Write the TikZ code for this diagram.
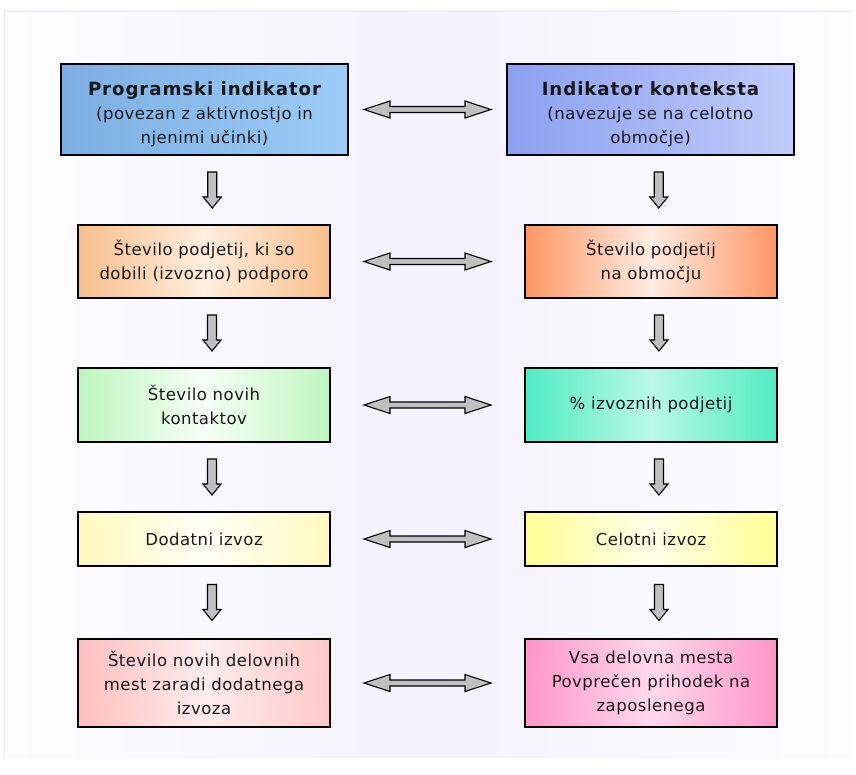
\documentclass[tikz,border=0pt]{standalone}
\usepackage{fontspec}
\setmainfont{DejaVu Sans}[LetterSpace=3]
\newfontfamily\headfont{DejaVu Sans}[LetterSpace=5]
\usetikzlibrary{calc}

% shade colours
\definecolor{bgedge}{RGB}{253,253,254}
\definecolor{bgmid}{RGB}{244,242,254}
\definecolor{bgline}{RGB}{234,232,250}
\definecolor{arrowgray}{RGB}{192,192,192}

\begin{document}
\begin{tikzpicture}[x=1pt,y=-1pt,
  box/.style={draw=black, line width=1.1pt, align=center, inner sep=2pt,
    font=\fontsize{16.5}{24}\selectfont, text=black!90},
  toprow/.style={box, minimum width=287pt, minimum height=91pt},
  lowrow/.style={box, minimum width=252pt},
  arrowstyle/.style={draw=black, line width=1.1pt, fill=arrowgray, line join=miter},
  hdbl/.pic={\draw[arrowstyle] (-63.5,0) -- (-37.5,-8.5) -- (-37.5,-3) -- (37.5,-3)
      -- (37.5,-8.5) -- (63.5,0) -- (37.5,8.5) -- (37.5,3) -- (-37.5,3)
      -- (-37.5,8.5) -- cycle;},
  vdown/.pic={\draw[arrowstyle] (-4.5,-18) -- (4.5,-18) -- (4.5,7) -- (9,7)
      -- (0,18) -- (-9,7) -- (-4.5,7) -- cycle;}
]
\useasboundingbox (0,0) rectangle (856,774);

% backdrop
\shade[left color=bgedge, right color=bgedge, middle color=bgmid] (4,11) rectangle (852,757);
\draw[bgline, line width=0.8pt] (4,757) -- (4,11) -- (852,11);

% programme-side column
\node[toprow, left color={rgb,255:red,124;green,174;blue,226},
      right color={rgb,255:red,156;green,205;blue,247}] (L1) at (204.5,109.5)
  {{\rule{0pt}{24pt}\headfont\fontsize{18.2}{24}\selectfont\bfseries Programski indikator}\\(povezan z aktivnostjo in\\njenimi učinki)};
\node[lowrow, minimum height=73pt, left color={rgb,255:red,248;green,190;blue,140},
      right color={rgb,255:red,248;green,192;blue,142},
      middle color={rgb,255:red,255;green,238;blue,222}] (L2) at (204,261.5)
  {Število podjetij, ki so\\dobili (izvozno) podporo};
\node[lowrow, minimum height=74pt, left color={rgb,255:red,190;green,245;blue,190},
      right color={rgb,255:red,192;green,245;blue,192},
      middle color={rgb,255:red,245;green,255;blue,245}] (L3) at (204,405)
  {Število novih\\kontaktov};
\node[lowrow, minimum height=54pt, left color={rgb,255:red,255;green,249;blue,188},
      right color={rgb,255:red,255;green,249;blue,190},
      middle color={rgb,255:red,255;green,255;blue,246}] (L4) at (204,539)
  {Dodatni izvoz};
\node[lowrow, minimum height=88pt, left color={rgb,255:red,255;green,190;blue,190},
      right color={rgb,255:red,255;green,200;blue,200},
      middle color={rgb,255:red,255;green,236;blue,236}] (L5) at (204,683)
  {Število novih delovnih\\mest zaradi dodatnega\\izvoza};

% context-side column
\node[toprow, left color={rgb,255:red,140;green,160;blue,240},
      right color={rgb,255:red,192;green,204;blue,250}] (R1) at (650.5,109.5)
  {{\rule{0pt}{24pt}\headfont\fontsize{18.2}{24}\selectfont\bfseries Indikator konteksta}\\(navezuje se na celotno\\območje)};
\node[lowrow, minimum height=73pt, left color={rgb,255:red,255;green,150;blue,100},
      right color={rgb,255:red,255;green,150;blue,100},
      middle color={rgb,255:red,255;green,236;blue,226}] (R2) at (651,261.5)
  {Število podjetij\\na območju};
\node[lowrow, minimum height=74pt, left color={rgb,255:red,80;green,236;blue,196},
      right color={rgb,255:red,80;green,236;blue,196},
      middle color={rgb,255:red,186;green,248;blue,228}] (R3) at (651,405)
  {\% izvoznih podjetij};
\node[lowrow, minimum height=54pt, left color={rgb,255:red,255;green,255;blue,150},
      right color={rgb,255:red,255;green,255;blue,150},
      middle color={rgb,255:red,255;green,255;blue,232}] (R4) at (651,539)
  {Celotni izvoz};
\node[lowrow, minimum height=88pt, left color={rgb,255:red,255;green,150;blue,200},
      right color={rgb,255:red,255;green,150;blue,200},
      middle color={rgb,255:red,255;green,216;blue,236}] (R5) at (651,683)
  {Vsa delovna mesta\\Povprečen prihodek na\\zaposlenega};

% two-way links between the columns
\foreach \r in {1,...,5}
  \pic at ($(L\r.east)!0.5!(R\r.west)$) {hdbl};

% downward steps within each column
\foreach \a/\b in {1/2,2/3,3/4,4/5} {
  \pic at ($(L\a.south)!0.5!(L\b.north)+(8,0)$) {vdown};
  \pic at ($(R\a.south)!0.5!(R\b.north)+(8,0)$) {vdown};
}
\end{tikzpicture}
\end{document}
